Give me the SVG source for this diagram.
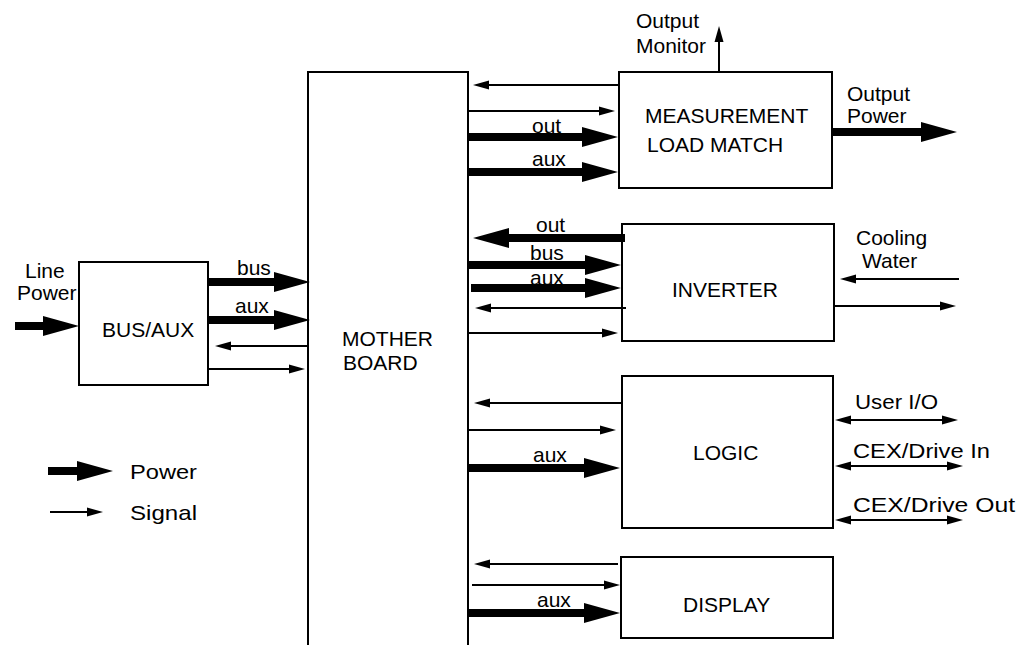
<svg xmlns="http://www.w3.org/2000/svg" width="1025" height="645" viewBox="0 0 1025 645">
<style>
text{font-family:"Liberation Sans",Arial,sans-serif;font-size:21px;fill:#000}
.box{fill:none;stroke:#000;stroke-width:2}
.sig{stroke:#000;stroke-width:2;fill:none;marker-end:url(#sh)}
.bi{stroke:#000;stroke-width:2;fill:none;marker-end:url(#sh);marker-start:url(#sh)}
.pow{stroke:#000;stroke-width:8;fill:none;marker-end:url(#ph)}
</style>
<defs>
<marker id="sh" markerUnits="userSpaceOnUse" markerWidth="17" markerHeight="10" refX="0" refY="5" orient="auto-start-reverse" overflow="visible"><path d="M0,0.5 L16,5 L0,9.5 z" fill="#000"/></marker>
<marker id="ph" markerUnits="userSpaceOnUse" markerWidth="37" markerHeight="21" refX="0" refY="10" orient="auto" overflow="visible"><path d="M0,0 L36,10 L0,20 z" fill="#000"/></marker>
</defs>
<g id="mother-board">
<path class="box" d="M308,646 V72 H468 V646"/>
<text x="342" y="346">MOTHER</text>
<text x="343" y="370">BOARD</text>
</g>
<g id="bus-aux">
<rect class="box" x="79" y="262" width="129" height="123"/>
<text x="102" y="337">BUS/AUX</text>
</g>
<g id="measurement">
<rect class="box" x="619" y="72" width="213" height="116"/>
<text x="645" y="123">MEASUREMENT</text>
<text x="647" y="152">LOAD MATCH</text>
</g>
<g id="inverter">
<rect class="box" x="622" y="224" width="212" height="117"/>
<text x="672" y="297">INVERTER</text>
</g>
<g id="logic">
<rect class="box" x="622" y="376" width="211" height="152"/>
<text x="693" y="460">LOGIC</text>
</g>
<g id="display">
<rect class="box" x="621" y="557" width="212" height="81"/>
<text x="683" y="612">DISPLAY</text>
</g>
<g id="legend">
<line class="pow" x1="48" y1="471" x2="77" y2="471"/>
<text x="130" y="479" textLength="67" lengthAdjust="spacingAndGlyphs">Power</text>
<line class="sig" x1="50" y1="512" x2="87" y2="512"/>
<text x="130" y="520" textLength="67" lengthAdjust="spacingAndGlyphs">Signal</text>
</g>
<g id="connectors">
<line class="sig" x1="618" y1="85" x2="489" y2="85"/>
<line class="sig" x1="468" y1="111" x2="599" y2="111"/>
<line class="pow" x1="468" y1="137" x2="582" y2="137"/>
<line class="pow" x1="468" y1="172" x2="582" y2="172"/>
<line class="sig" x1="719" y1="72" x2="719" y2="42"/>
<line class="pow" x1="832" y1="132" x2="921" y2="132"/>
<line class="pow" x1="625" y1="238" x2="509" y2="238"/>
<line class="pow" x1="468" y1="265" x2="585" y2="265"/>
<line class="pow" x1="471" y1="288" x2="585" y2="288"/>
<line class="sig" x1="626" y1="308" x2="491" y2="308"/>
<line class="sig" x1="468" y1="333" x2="602" y2="333"/>
<line class="sig" x1="959" y1="279" x2="856" y2="279"/>
<line class="sig" x1="834" y1="306" x2="940" y2="306"/>
<line class="pow" x1="15" y1="326" x2="43" y2="326"/>
<line class="pow" x1="208" y1="282" x2="274" y2="282"/>
<line class="pow" x1="208" y1="320" x2="274" y2="320"/>
<line class="sig" x1="307" y1="346" x2="231" y2="346"/>
<line class="sig" x1="208" y1="369" x2="289" y2="369"/>
<line class="sig" x1="622" y1="403" x2="490" y2="403"/>
<line class="sig" x1="468" y1="430" x2="600" y2="430"/>
<line class="pow" x1="468" y1="468" x2="584" y2="468"/>
<line class="bi" x1="851" y1="420" x2="942" y2="420"/>
<line class="bi" x1="851" y1="466" x2="947" y2="466"/>
<line class="bi" x1="851" y1="520" x2="947" y2="520"/>
<line class="sig" x1="618" y1="564" x2="490" y2="564"/>
<line class="sig" x1="472" y1="585" x2="604" y2="585"/>
<line class="pow" x1="468" y1="613" x2="584" y2="613"/>
</g>
<g id="labels">
<text x="636" y="28">Output</text>
<text x="636" y="53">Monitor</text>
<text x="847" y="101">Output</text>
<text x="847" y="123">Power</text>
<text x="532" y="133">out</text>
<text x="532" y="166">aux</text>
<text x="536" y="232">out</text>
<text x="530" y="260">bus</text>
<text x="530" y="285">aux</text>
<text x="856" y="245">Cooling</text>
<text x="862" y="268">Water</text>
<text x="25" y="278">Line</text>
<text x="17" y="300">Power</text>
<text x="237" y="275">bus</text>
<text x="235" y="313">aux</text>
<text x="533" y="462">aux</text>
<text x="537" y="607">aux</text>
<text x="855" y="409" textLength="83" lengthAdjust="spacingAndGlyphs">User I/O</text>
<text x="853" y="458" textLength="137" lengthAdjust="spacingAndGlyphs">CEX/Drive In</text>
<text x="853" y="512" textLength="162" lengthAdjust="spacingAndGlyphs">CEX/Drive Out</text>
</g>
</svg>
